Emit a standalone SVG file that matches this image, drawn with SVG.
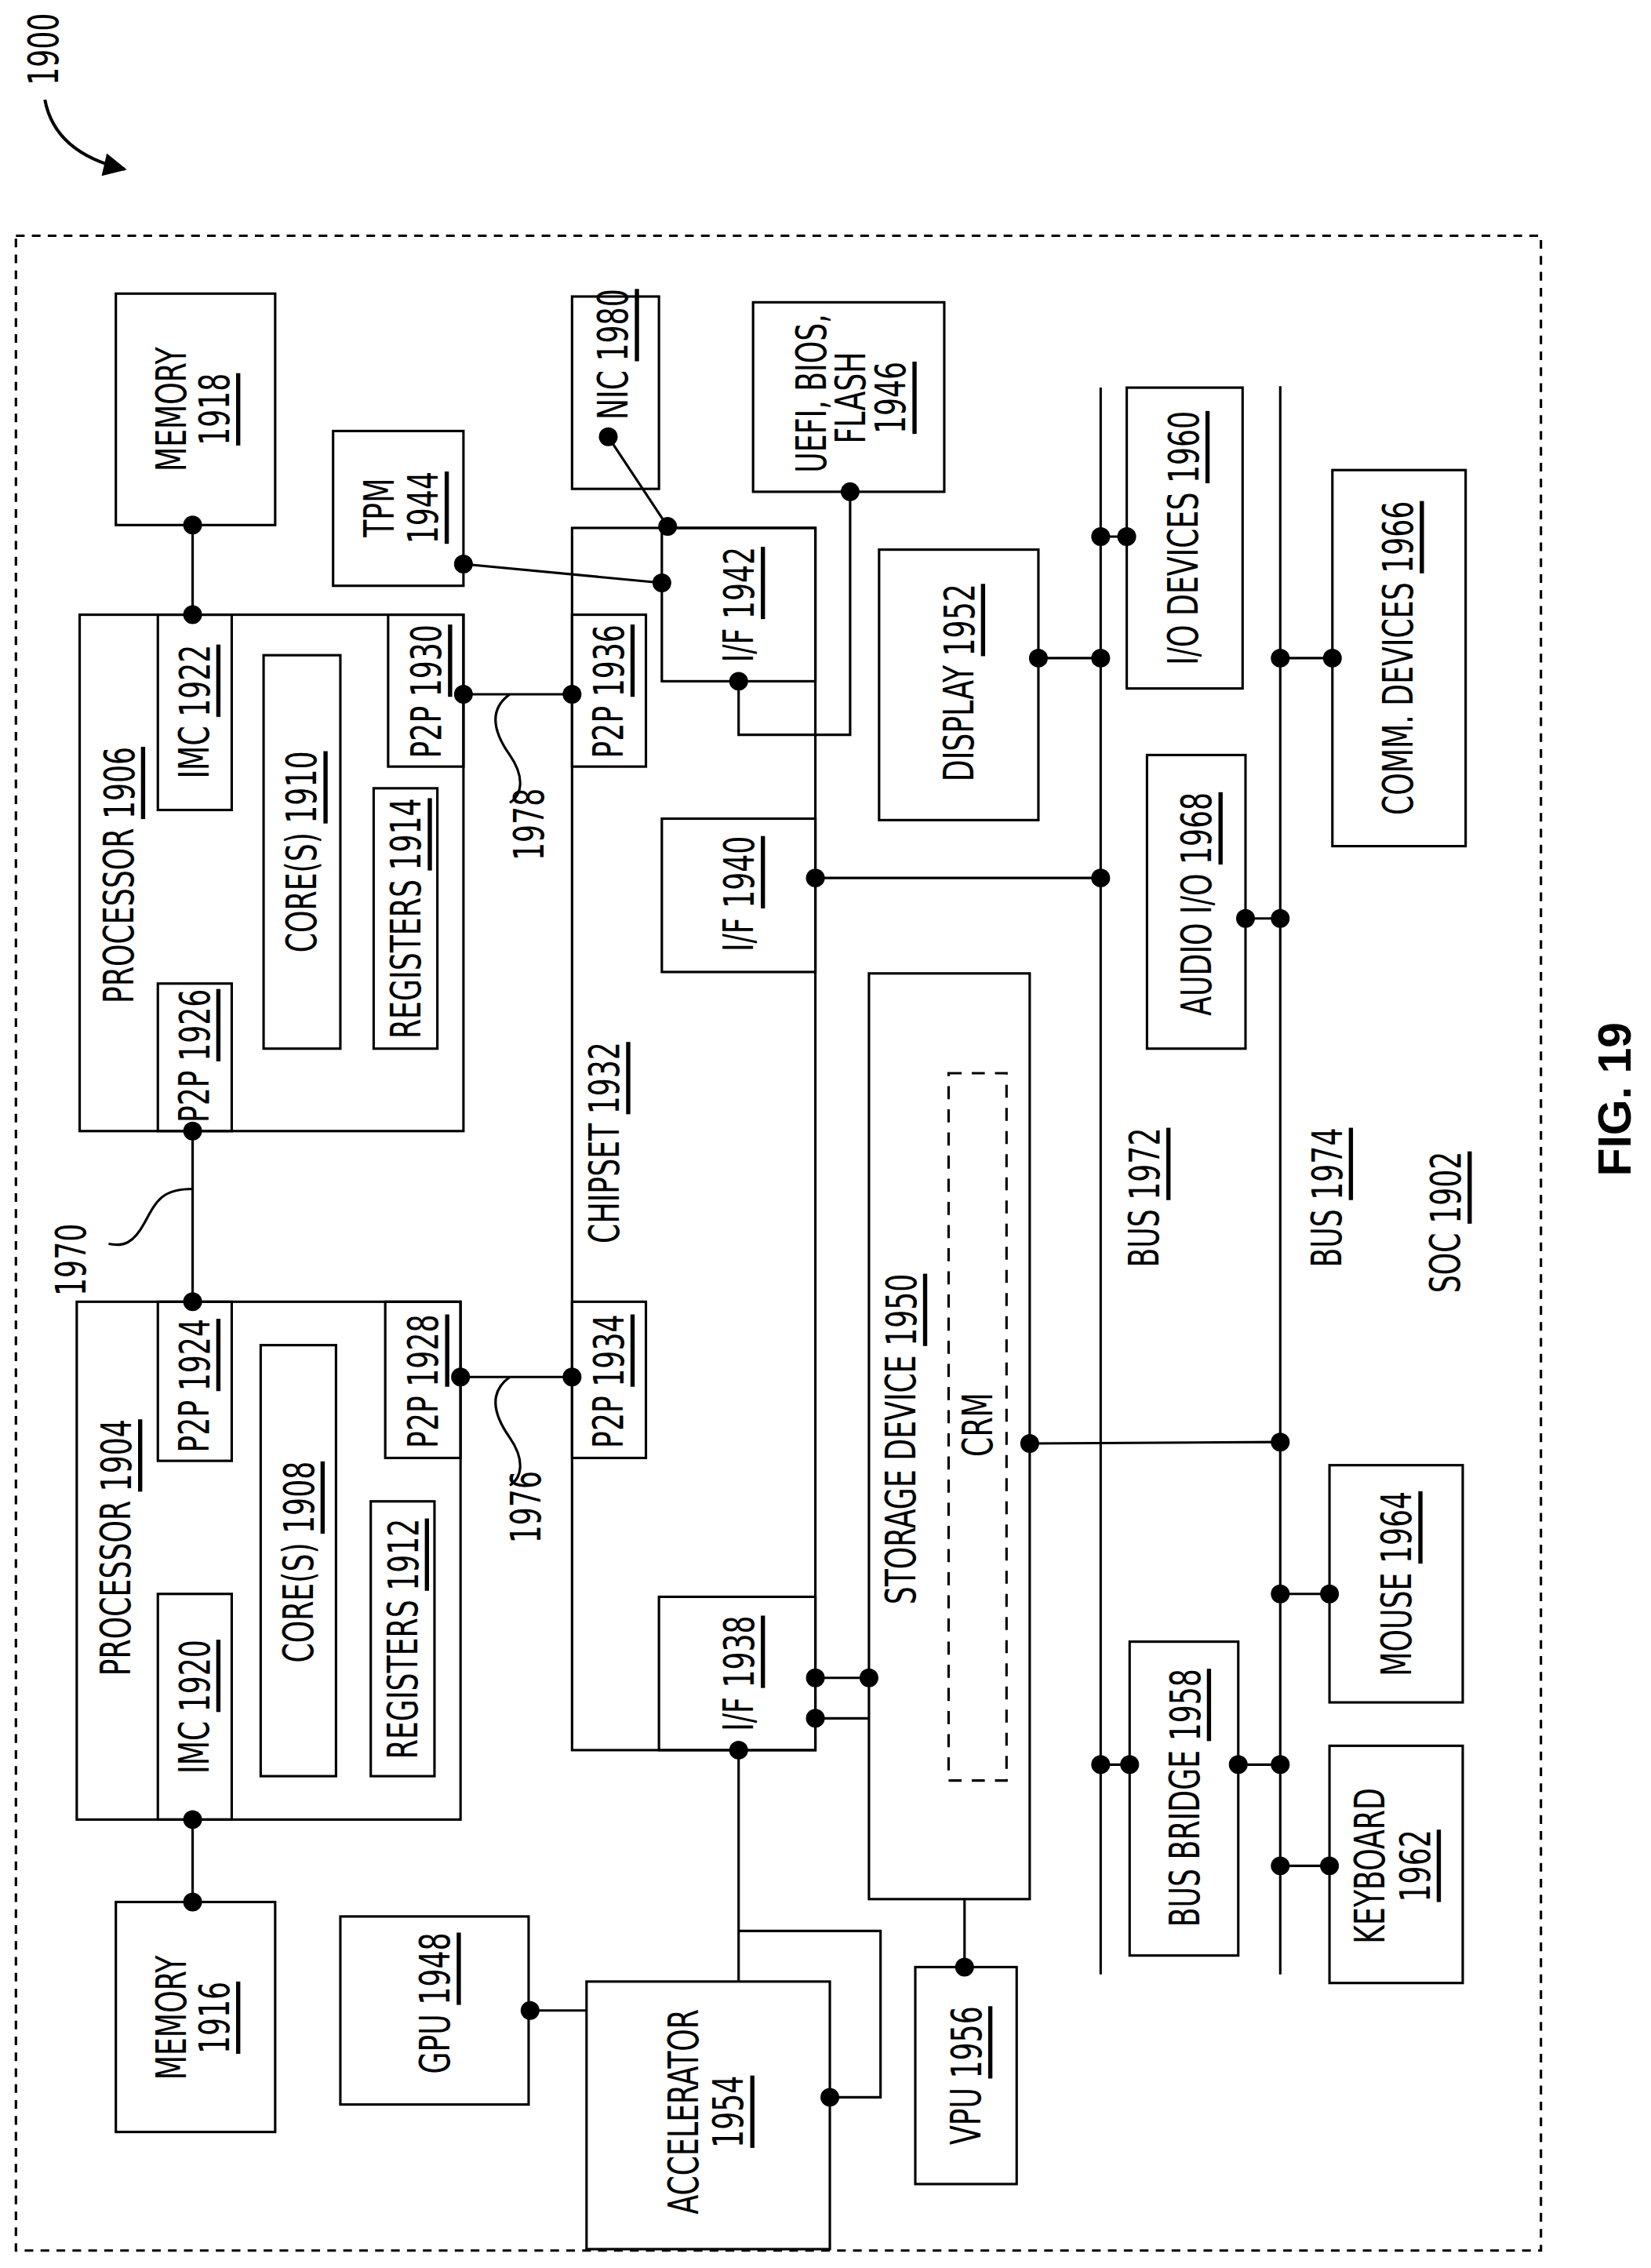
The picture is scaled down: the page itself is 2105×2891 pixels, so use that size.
<svg xmlns="http://www.w3.org/2000/svg" width="2105" height="2891" viewBox="0 0 2105 2891">
<defs>
<style>
.b{fill:none;stroke:#000;stroke-width:1.7}
.d{fill:#000}
text{font-family:"Liberation Sans Narrow","DejaVu Sans Condensed","Liberation Sans",sans-serif;font-size:26px;fill:#000;text-anchor:middle;dominant-baseline:central}
.u{text-decoration:underline}
</style>
<marker id="ah" viewBox="0 0 10 10" refX="9" refY="5" markerWidth="18" markerHeight="16" orient="auto" markerUnits="userSpaceOnUse"><path d="M0,0 L10,5 L0,10 z"/></marker>
</defs>
<rect width="2105" height="2891" fill="#fff"/>
<g transform="scale(1.8465,1.8437)">
<rect x="11" y="163" width="1053" height="1393" class="b" stroke-dasharray="6 5"/>
<g id="label1900"><text transform="translate(30,34) rotate(-90) scale(0.84,1.12)">1900</text>
<path d="M31,69 Q38,106 86,117" style="fill:none;stroke:#000;stroke-width:2.2" marker-end="url(#ah)"/></g>

<g id="memory1918"><rect x="80" y="203" width="110" height="160" class="b"/>
<text transform="translate(118,283) rotate(-90) scale(0.84,1.12)">MEMORY</text><text class="u" transform="translate(148,283) rotate(-90) scale(0.84,1.12)">1918</text></g>
<g id="processor1906"><rect x="55" y="425" width="265" height="357" class="b"/>
<text transform="translate(82,605) rotate(-90) scale(0.84,1.12)">PROCESSOR <tspan class="u">1906</tspan></text>
<rect x="109" y="425" width="51" height="135" class="b"/><text transform="translate(134,492) rotate(-90) scale(0.84,1.12)">IMC <tspan class="u">1922</tspan></text>
<rect x="109" y="680" width="51" height="102" class="b"/><text transform="translate(134,730) rotate(-90) scale(0.84,1.12)">P2P <tspan class="u">1926</tspan></text>
<rect x="182" y="453" width="53" height="272" class="b"/><text transform="translate(208,589) rotate(-90) scale(0.84,1.12)">CORE(S) <tspan class="u">1910</tspan></text>
<rect x="258" y="545" width="44" height="180" class="b"/><text transform="translate(280,635) rotate(-90) scale(0.84,1.12)">REGISTERS <tspan class="u">1914</tspan></text>
<rect x="268" y="425" width="52" height="105" class="b"/><text transform="translate(294,478) rotate(-90) scale(0.84,1.12)">P2P <tspan class="u">1930</tspan></text></g>

<g id="processor1904"><rect x="53" y="900" width="265" height="358" class="b"/>
<text transform="translate(80,1070) rotate(-90) scale(0.84,1.12)">PROCESSOR <tspan class="u">1904</tspan></text>
<rect x="109" y="900" width="51" height="110" class="b"/><text transform="translate(134,958) rotate(-90) scale(0.84,1.12)">P2P <tspan class="u">1924</tspan></text>
<rect x="109" y="1102" width="51" height="156" class="b"/><text transform="translate(134,1180) rotate(-90) scale(0.84,1.12)">IMC <tspan class="u">1920</tspan></text>
<rect x="180" y="930" width="52" height="298" class="b"/><text transform="translate(206,1080) rotate(-90) scale(0.84,1.12)">CORE(S) <tspan class="u">1908</tspan></text>
<rect x="256" y="1038" width="44" height="190" class="b"/><text transform="translate(278,1133) rotate(-90) scale(0.84,1.12)">REGISTERS <tspan class="u">1912</tspan></text>
<rect x="266" y="900" width="52" height="108" class="b"/><text transform="translate(292,955) rotate(-90) scale(0.84,1.12)">P2P <tspan class="u">1928</tspan></text></g>

<g id="memory1916"><rect x="80" y="1315" width="110" height="159" class="b"/>
<text transform="translate(118,1395) rotate(-90) scale(0.84,1.12)">MEMORY</text><text class="u" transform="translate(148,1395) rotate(-90) scale(0.84,1.12)">1916</text></g>

<g id="tpm1944"><rect x="230" y="298" width="90" height="107" class="b"/>
<text transform="translate(262,351) rotate(-90) scale(0.84,1.12)">TPM</text><text class="u" transform="translate(292,351) rotate(-90) scale(0.84,1.12)">1944</text></g>
<g id="nic1980"><rect x="395" y="205" width="60" height="133" class="b"/><text transform="translate(423,245) rotate(-90) scale(0.84,1.12)">NIC <tspan class="u">1980</tspan></text></g>
<g id="uefi1946"><rect x="520" y="209" width="132" height="131" class="b"/>
<text transform="translate(560,272) rotate(-90) scale(0.84,1.12)">UEFI, BIOS,</text><text transform="translate(587,275) rotate(-90) scale(0.84,1.12)">FLASH</text><text class="u" transform="translate(615,275) rotate(-90) scale(0.84,1.12)">1946</text></g>

<g id="chipset1932"><rect x="395" y="365" width="168" height="845" class="b"/>
<text transform="translate(417,790) rotate(-90) scale(0.84,1.12)">CHIPSET <tspan class="u">1932</tspan></text>
<rect x="395" y="425" width="51" height="105" class="b"/><text transform="translate(420,478) rotate(-90) scale(0.84,1.12)">P2P <tspan class="u">1936</tspan></text>
<rect x="395" y="900" width="51" height="108" class="b"/><text transform="translate(420,955) rotate(-90) scale(0.84,1.12)">P2P <tspan class="u">1934</tspan></text>
<rect x="457" y="365" width="106" height="106" class="b"/><text transform="translate(510,418) rotate(-90) scale(0.84,1.12)">I/F <tspan class="u">1942</tspan></text>
<rect x="457" y="566" width="106" height="106" class="b"/><text transform="translate(510,618) rotate(-90) scale(0.84,1.12)">I/F <tspan class="u">1940</tspan></text>
<rect x="455" y="1104" width="108" height="106" class="b"/><text transform="translate(510,1157) rotate(-90) scale(0.84,1.12)">I/F <tspan class="u">1938</tspan></text></g>

<g id="display1952"><rect x="607" y="380" width="110" height="187" class="b"/><text transform="translate(662,472) rotate(-90) scale(0.84,1.12)">DISPLAY <tspan class="u">1952</tspan></text></g>
<g id="storage1950"><rect x="600" y="673" width="111" height="640" class="b"/>
<text transform="translate(622,995) rotate(-90) scale(0.84,1.12)">STORAGE DEVICE <tspan class="u">1950</tspan></text>
<rect x="655" y="742" width="40" height="489" class="b" stroke-dasharray="9 7"/>
<text transform="translate(675,985) rotate(-90) scale(0.84,1.12)">CRM</text></g>
<g id="gpu1948"><rect x="235" y="1325" width="130" height="130" class="b"/><text transform="translate(300,1385) rotate(-90) scale(0.84,1.12)">GPU <tspan class="u">1948</tspan></text></g>
<g id="accel1954"><rect x="405" y="1370" width="168" height="185" class="b"/>
<text transform="translate(472,1460) rotate(-90) scale(0.84,1.12)">ACCELERATOR</text><text class="u" transform="translate(503,1460) rotate(-90) scale(0.84,1.12)">1954</text></g>
<g id="vpu1956"><rect x="632" y="1360" width="70" height="150" class="b"/><text transform="translate(667,1435) rotate(-90) scale(0.84,1.12)">VPU <tspan class="u">1956</tspan></text></g>

<g id="io1960"><rect x="778" y="268" width="80" height="208" class="b"/><text transform="translate(817,372) rotate(-90) scale(0.84,1.12)">I/O DEVICES <tspan class="u">1960</tspan></text></g>
<g id="comm1966"><rect x="920" y="325" width="92" height="260" class="b"/><text transform="translate(965,455) rotate(-90) scale(0.84,1.12)">COMM. DEVICES <tspan class="u">1966</tspan></text></g>
<g id="audio1968"><rect x="792" y="522" width="68" height="203" class="b"/><text transform="translate(826,625) rotate(-90) scale(0.84,1.12)">AUDIO I/O <tspan class="u">1968</tspan></text></g>
<g id="mouse1964"><rect x="918" y="1013" width="92" height="164" class="b"/><text transform="translate(964,1095) rotate(-90) scale(0.84,1.12)">MOUSE <tspan class="u">1964</tspan></text></g>
<g id="bridge1958"><rect x="780" y="1135" width="75" height="217" class="b"/><text transform="translate(818,1243) rotate(-90) scale(0.84,1.12)">BUS BRIDGE <tspan class="u">1958</tspan></text></g>
<g id="keyboard1962"><rect x="918" y="1207" width="92" height="164" class="b"/>
<text transform="translate(946,1290) rotate(-90) scale(0.84,1.12)">KEYBOARD</text><text class="u" transform="translate(977,1290) rotate(-90) scale(0.84,1.12)">1962</text></g>

<g id="labels">
<text transform="translate(790,828) rotate(-90) scale(0.84,1.12)">BUS <tspan class="u">1972</tspan></text>
<text transform="translate(916,828) rotate(-90) scale(0.84,1.12)">BUS <tspan class="u">1974</tspan></text>
<text transform="translate(998,845) rotate(-90) scale(0.84,1.12)">SOC <tspan class="u">1902</tspan></text>
<text transform="translate(1115,760) rotate(-90)" style="font-family:'Liberation Sans',sans-serif;font-weight:bold;font-size:32px">FIG. 19</text>
<text transform="translate(365,570) rotate(-90) scale(0.84,1.12)">1978</text>
<text transform="translate(363,1042) rotate(-90) scale(0.84,1.12)">1976</text>
<text transform="translate(49,871) rotate(-90) scale(0.84,1.12)">1970</text>
</g>

<g id="connectors">
<line x1="760" y1="268" x2="760" y2="1365" class="b"/>
<line x1="884" y1="267" x2="884" y2="1365" class="b"/>
<path class="b" d="M133,363V425 M133,782V900 M133,1258V1315 M320,480H395 M318,952H395 M320,390L457,403 M420,302L461,364 M510,471V508H587V340 M563,607H760 M711,998L884,997 M563,1160H600 M563,1188H600 M510,1210V1370 M510,1335H608V1450H573 M366,1390H405 M666,1313V1360 M717,455H760 M760,371H778 M884,455H920 M860,635H884 M884,1102H918 M760,1220H780 M855,1220H884 M884,1290H918"/>
<path class="b" d="M352,480 C338,490 340,505 352,522 C363,538 360,550 352,555"/>
<path class="b" d="M352,952 C338,962 340,977 352,994 C363,1010 360,1022 352,1027"/>
<path class="b" d="M133,822 C112,822 108,830 100,845 C92,860 85,862 75,860"/>
<g class="d">
<circle cx="133" cy="363" r="6.5"/><circle cx="133" cy="425" r="6.5"/><circle cx="133" cy="782" r="6.5"/><circle cx="133" cy="900" r="6.5"/>
<circle cx="133" cy="1258" r="6.5"/><circle cx="133" cy="1315" r="6.5"/>
<circle cx="320" cy="480" r="6.5"/><circle cx="395" cy="480" r="6.5"/><circle cx="318" cy="952" r="6.5"/><circle cx="395" cy="952" r="6.5"/>
<circle cx="320" cy="390" r="6.5"/><circle cx="457" cy="403" r="6.5"/><circle cx="420" cy="302" r="6.5"/><circle cx="461" cy="364" r="6.5"/>
<circle cx="510" cy="471" r="6.5"/><circle cx="587" cy="340" r="6.5"/>
<circle cx="563" cy="607" r="6.5"/><circle cx="760" cy="607" r="6.5"/>
<circle cx="711" cy="998" r="6.5"/><circle cx="884" cy="997" r="6.5"/>
<circle cx="563" cy="1160" r="6.5"/><circle cx="600" cy="1160" r="6.5"/><circle cx="563" cy="1188" r="6.5"/>
<circle cx="510" cy="1210" r="6.5"/><circle cx="573" cy="1450" r="6.5"/><circle cx="366" cy="1390" r="6.5"/><circle cx="666" cy="1360" r="6.5"/>
<circle cx="717" cy="455" r="6.5"/><circle cx="760" cy="455" r="6.5"/><circle cx="760" cy="371" r="6.5"/><circle cx="778" cy="371" r="6.5"/>
<circle cx="884" cy="455" r="6.5"/><circle cx="920" cy="455" r="6.5"/><circle cx="860" cy="635" r="6.5"/><circle cx="884" cy="635" r="6.5"/>
<circle cx="884" cy="1102" r="6.5"/><circle cx="918" cy="1102" r="6.5"/>
<circle cx="760" cy="1220" r="6.5"/><circle cx="780" cy="1220" r="6.5"/><circle cx="855" cy="1220" r="6.5"/><circle cx="884" cy="1220" r="6.5"/>
<circle cx="884" cy="1290" r="6.5"/><circle cx="918" cy="1290" r="6.5"/>
</g>
</g>
</g>
</svg>
